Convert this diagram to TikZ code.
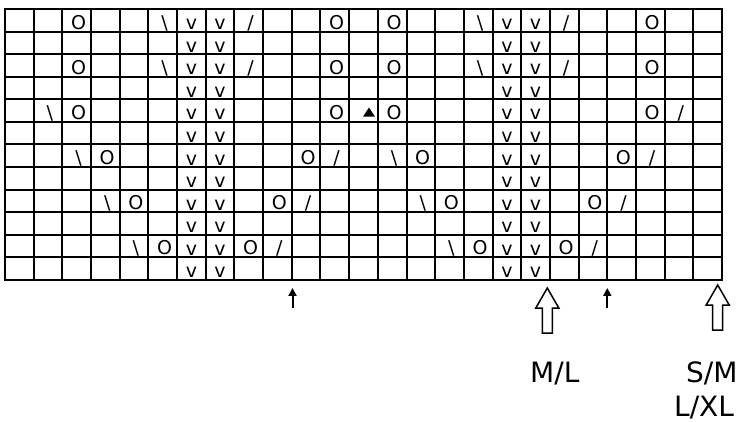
\documentclass[tikz,border=0pt]{standalone}
\usepackage{fontspec}
\setmainfont{DejaVu Sans}
\usetikzlibrary{arrows.meta}
\newcommand\chYo{O}
\newcommand\chBs{\textbackslash}
\newcommand\chFs{/}

\begin{document}
\begin{tikzpicture}[x=1pt, y=-1pt,
  ln/.style={line width=2pt, line cap=rect},
  sym/.style={font=\fontsize{19}{22}\selectfont, anchor=base, inner sep=0pt},
  lbl/.style={font=\fontsize{28}{32}\selectfont, anchor=base west, inner sep=0pt},
  tick/.style={-{Triangle[width=8pt,length=8pt]}, line width=2pt},
  hollow/.style={line width=1.5pt, fill=white, line join=miter}]
\useasboundingbox (0,0) rectangle (742,422);
% chart grid, 25 stitches x 12 rows
\foreach \i in {0,...,25}{\draw[ln] (5+\i*28.68,9) -- (5+\i*28.68,280);}
\foreach \j in {0,...,12}{\draw[ln] (5,9+\j*22.58) -- (722,9+\j*22.58);}
% slipped stitches
\foreach \r in {1,...,12}{
  \foreach \c in {7,8,18,19}{\node[sym] (v\r-\c) at (5+\c*28.68-14.34,9+\r*22.58-2) {v};}}
% yarn overs and decreases
\foreach \r/\c/\s in {1/3/\chYo, 1/6/\chBs, 1/9/\chFs, 1/12/\chYo, 1/14/\chYo, 1/17/\chBs, 1/20/\chFs, 1/23/\chYo,
  3/3/\chYo, 3/6/\chBs, 3/9/\chFs, 3/12/\chYo, 3/14/\chYo, 3/17/\chBs, 3/20/\chFs, 3/23/\chYo,
  5/2/\chBs, 5/3/\chYo, 5/12/\chYo, 5/14/\chYo, 5/23/\chYo, 5/24/\chFs,
  7/3/\chBs, 7/4/\chYo, 7/11/\chYo, 7/12/\chFs, 7/14/\chBs, 7/15/\chYo, 7/22/\chYo, 7/23/\chFs,
  9/4/\chBs, 9/5/\chYo, 9/10/\chYo, 9/11/\chFs, 9/15/\chBs, 9/16/\chYo, 9/21/\chYo, 9/22/\chFs,
  11/5/\chBs, 11/6/\chYo, 11/9/\chYo, 11/10/\chFs, 11/16/\chBs, 11/17/\chYo, 11/20/\chYo, 11/21/\chFs}
  {\node[sym] (s\r-\c) at (5+\c*28.68-12.5,9+\r*22.58-2.5) {\s};}
% centre mark
\coordinate (cdd) at (369,107.5);
\fill (cdd) -- ++(6,9.2) -- ++(-12,0) -- cycle;

% markers under the chart
\coordinate (tkA) at (292.5,308);
\coordinate (tkAtop) at (292.5,288);
\coordinate (tkB) at (607.3,308);
\coordinate (tkBtop) at (607.3,288);
\draw[tick] (tkA) -- (tkAtop);
\draw[tick] (tkB) -- (tkBtop);
\coordinate (ml) at (547.3,288);
\coordinate (sm) at (717.7,285);
\foreach \p in {ml,sm}
  {\draw[hollow] (\p) -- ++(11.5,20) -- ++(-6.5,0) -- ++(0,25) -- ++(-10,0) -- ++(0,-25) -- ++(-6.5,0) -- cycle;}
\node[lbl] (mlLbl) at (530,382) {M/L};
\node[lbl] (smLbl) at (686,382) {S/M};
\node[lbl] (lxlLbl) at (674,416) {L/XL};
\end{tikzpicture}
\end{document}
